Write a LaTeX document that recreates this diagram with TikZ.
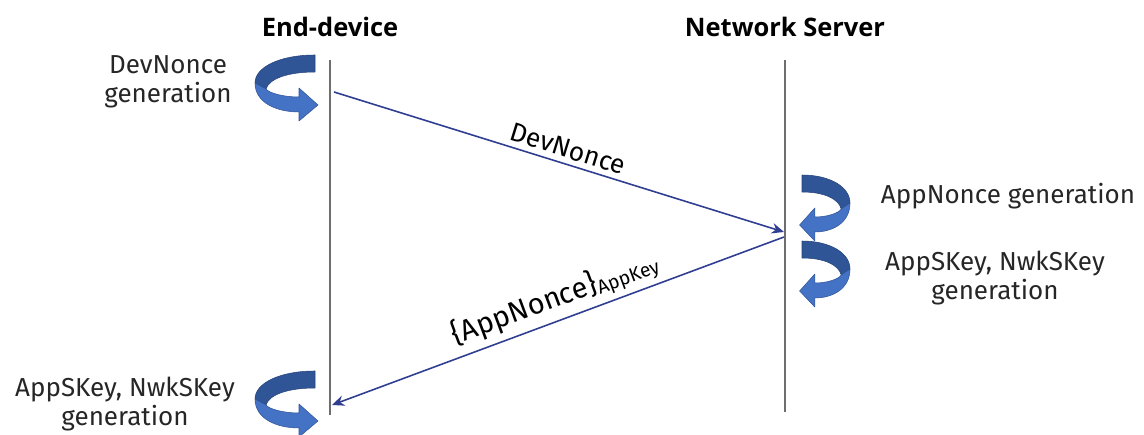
\documentclass[tikz,border=0pt]{standalone}
\usepackage{fontspec}
\setmainfont{Fira Sans}
\newfontfamily\headfont{Open Sans}
\definecolor{backblue}{RGB}{47,85,151}
\definecolor{frontblue}{RGB}{68,114,196}
\definecolor{msgblue}{RGB}{47,62,145}
\definecolor{lifegray}{RGB}{110,110,110}
\definecolor{txtgray}{RGB}{38,38,38}
\tikzset{
  lifeline/.style={lifegray, line width=0.8pt},
  msg/.style={msgblue, line width=0.9pt, -{Stealth[length=7pt,width=6pt]}},
  header/.style={font=\headfont\bfseries\fontsize{14.5}{17}\selectfont, text=black},
  step text/.style={font=\fontsize{14.8}{16.5}\selectfont, text=txtgray, align=center},
  msg text/.style={font=\fontsize{15}{17}\selectfont, text=black, sloped, inner sep=3pt}
}
\usetikzlibrary{arrows.meta}
\begin{document}
\begin{tikzpicture}[x=0.02cm, y=-0.02cm, line join=round]
	% curved ribbon arrow, #1,#2 = top left corner, #3 = xscale
	\def\curl#1#2#3{%
		\begin{scope}[shift={(#1,#2)}, xscale=#3]
		\fill[backblue, draw=backblue!80!black, line width=0.3pt] (60,0) .. controls (25,0) and (0,12) .. (0,28) -- (11,34) .. controls (14,24) and (32,17) .. (60,17) -- cycle;
		\fill[frontblue, draw=backblue, line width=0.3pt] (0,28) .. controls (0,48) and (22,57) .. (44,57) -- (44,66) -- (63,50) -- (44,33) -- (44,42) .. controls (28,42) and (14,38) .. (11,34) -- cycle;
		\end{scope}}
	\useasboundingbox (0,0) rectangle (1144,435);
	% headers and lifelines
	\node[header] (ed) at (330,27) {End-device};
	\node[header] (ns) at (785,27) {Network Server};
	\coordinate (ed top) at (330,60);
	\coordinate (ed bot) at (330,415);
	\coordinate (ns top) at (785,60);
	\coordinate (ns bot) at (785,412);
	\draw[lifeline] (ed top) -- (ed bot);
	\draw[lifeline] (ns top) -- (ns bot);
	% messages
	\coordinate (dn start) at (334,92);
	\coordinate (dn end) at (784,232);
	\coordinate (an start) at (784,237);
	\coordinate (an end) at (332,405);
	\draw[msg] (dn start) -- (dn end) node[msg text, pos=0.51, above] (dn) {DevNonce};
	\draw[msg] (an start) -- (an end) node[msg text, pos=0.49, above, font=\fontsize{16.5}{18}\selectfont] (an) {\{AppNonce\}\raisebox{-0.2ex}{\fontsize{11}{12}\selectfont AppKey}};
	% generation steps
	\curl{255}{55}{1}
	\curl{850}{175}{-0.8}
	\curl{850}{241}{-0.8}
	\curl{255}{371}{1}
	\path
	(168,82) node[step text] (dng) {DevNonce\\generation}
	(1008,196) node[step text] (ang) {AppNonce generation}
	(995,278) node[step text] (nkg) {AppSKey, NwkSKey\\generation}
	(125,404) node[step text] (dkg) {AppSKey, NwkSKey\\generation}
	;
\end{tikzpicture}
\end{document}
